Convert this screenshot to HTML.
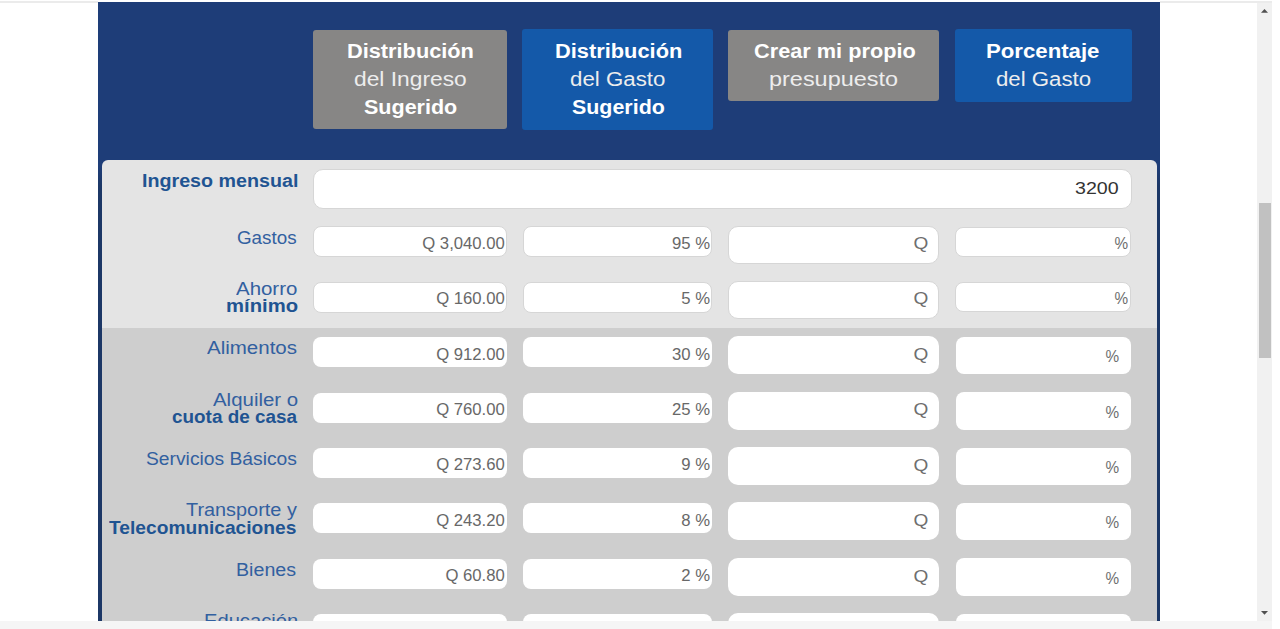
<!DOCTYPE html>
<html><head><meta charset="utf-8"><title>Presupuesto</title><style>
*{margin:0;padding:0;box-sizing:border-box}
html,body{width:1280px;height:629px;overflow:hidden;background:#fff;font-family:"Liberation Sans",sans-serif}
.a{position:absolute}
.t{position:absolute;white-space:nowrap;transform-origin:0 0}
.in{position:absolute;background:#fff;border-radius:8px}
.lt{border:1px solid #d6d6d6}
.v{position:absolute;font-size:16.7px;color:#686868;white-space:nowrap;text-align:right;line-height:20px}
.ph{position:absolute;font-size:17px;color:#6e6e6e;white-space:nowrap;text-align:right;line-height:20px}
</style></head>
<body>
<div class="a" style="left:0;top:1px;width:98px;height:2px;background:#ebebeb"></div>
<div class="a" style="left:1160px;top:1px;width:112px;height:2px;background:#ebebeb"></div>
<div class="a" style="left:98px;top:2px;width:1062px;height:627px;background:#1e3d78"></div>
<div class="a" style="left:102px;top:160px;width:1055px;height:168px;background:#e4e4e4;border-radius:6px 6px 0 0"></div>
<div class="a" style="left:102px;top:328px;width:1055px;height:301px;background:#cecece"></div>
<div class="a" style="left:98px;top:166px;width:3.6px;height:463px;background:linear-gradient(#1e3d78,#1c3766 20px)"></div>
<div class="a" style="left:1157px;top:166px;width:3px;height:463px;background:linear-gradient(#1e3d78,#1c3766 20px)"></div>
<div class="a" style="left:313px;top:30px;width:194px;height:99px;background:#878685;border-radius:3px"></div>
<div class="a" style="left:522px;top:29px;width:191px;height:101px;background:#1459a9;border-radius:3px"></div>
<div class="a" style="left:728px;top:30px;width:211px;height:71px;background:#878685;border-radius:3px"></div>
<div class="a" style="left:955px;top:29px;width:177px;height:73px;background:#1459a9;border-radius:3px"></div>
<div class="in lt" style="left:312.5px;top:169.4px;width:819.4px;height:39.2px;border-radius:10px"></div>
<div class="in lt" style="left:312.5px;top:226.20px;width:194.5px;height:31px"></div>
<div class="in lt" style="left:523px;top:226.20px;width:189px;height:31px"></div>
<div class="in lt" style="left:728px;top:225.70px;width:211.2px;height:38px;border-radius:10px"></div>
<div class="in lt" style="left:955px;top:226.90px;width:176px;height:30px"></div>
<div class="v" style="right:775.2px;top:234.01px">Q 3,040.00</div>
<div class="v" style="right:570px;top:234.01px">95 %</div>
<div class="ph" style="right:351.4px;top:233.61px;transform:scaleX(1.12);transform-origin:100% 0">Q</div>
<div class="ph" style="right:151.5999999999999px;top:233.81px;transform:scaleX(0.9);transform-origin:100% 0">%</div>
<div class="in lt" style="left:312.5px;top:281.55px;width:194.5px;height:31px"></div>
<div class="in lt" style="left:523px;top:281.55px;width:189px;height:31px"></div>
<div class="in lt" style="left:728px;top:281.05px;width:211.2px;height:38px;border-radius:10px"></div>
<div class="in lt" style="left:955px;top:282.25px;width:176px;height:30px"></div>
<div class="v" style="right:775.2px;top:289.36px">Q 160.00</div>
<div class="v" style="right:570px;top:289.36px">5 %</div>
<div class="ph" style="right:351.4px;top:288.96px;transform:scaleX(1.12);transform-origin:100% 0">Q</div>
<div class="ph" style="right:151.5999999999999px;top:289.16px;transform:scaleX(0.9);transform-origin:100% 0">%</div>
<div class="in" style="left:312.5px;top:337.40px;width:194.5px;height:30px"></div>
<div class="in" style="left:523px;top:337.40px;width:189px;height:30px"></div>
<div class="in" style="left:728px;top:336.40px;width:211.2px;height:38px;border-radius:10px"></div>
<div class="in" style="left:955.8px;top:336.90px;width:175.3px;height:37.3px"></div>
<div class="v" style="right:775.2px;top:344.71px">Q 912.00</div>
<div class="v" style="right:570px;top:344.71px">30 %</div>
<div class="ph" style="right:351.4px;top:345.11px;transform:scaleX(1.12);transform-origin:100% 0">Q</div>
<div class="ph" style="right:161px;top:347.31px;transform:scaleX(0.9);transform-origin:100% 0">%</div>
<div class="in" style="left:312.5px;top:392.75px;width:194.5px;height:30px"></div>
<div class="in" style="left:523px;top:392.75px;width:189px;height:30px"></div>
<div class="in" style="left:728px;top:391.75px;width:211.2px;height:38px;border-radius:10px"></div>
<div class="in" style="left:955.8px;top:392.25px;width:175.3px;height:37.3px"></div>
<div class="v" style="right:775.2px;top:400.06px">Q 760.00</div>
<div class="v" style="right:570px;top:400.06px">25 %</div>
<div class="ph" style="right:351.4px;top:400.46px;transform:scaleX(1.12);transform-origin:100% 0">Q</div>
<div class="ph" style="right:161px;top:402.66px;transform:scaleX(0.9);transform-origin:100% 0">%</div>
<div class="in" style="left:312.5px;top:448.10px;width:194.5px;height:30px"></div>
<div class="in" style="left:523px;top:448.10px;width:189px;height:30px"></div>
<div class="in" style="left:728px;top:447.10px;width:211.2px;height:38px;border-radius:10px"></div>
<div class="in" style="left:955.8px;top:447.60px;width:175.3px;height:37.3px"></div>
<div class="v" style="right:775.2px;top:455.41px">Q 273.60</div>
<div class="v" style="right:570px;top:455.41px">9 %</div>
<div class="ph" style="right:351.4px;top:455.81px;transform:scaleX(1.12);transform-origin:100% 0">Q</div>
<div class="ph" style="right:161px;top:458.01px;transform:scaleX(0.9);transform-origin:100% 0">%</div>
<div class="in" style="left:312.5px;top:503.45px;width:194.5px;height:30px"></div>
<div class="in" style="left:523px;top:503.45px;width:189px;height:30px"></div>
<div class="in" style="left:728px;top:502.45px;width:211.2px;height:38px;border-radius:10px"></div>
<div class="in" style="left:955.8px;top:502.95px;width:175.3px;height:37.3px"></div>
<div class="v" style="right:775.2px;top:510.76px">Q 243.20</div>
<div class="v" style="right:570px;top:510.76px">8 %</div>
<div class="ph" style="right:351.4px;top:511.16px;transform:scaleX(1.12);transform-origin:100% 0">Q</div>
<div class="ph" style="right:161px;top:513.36px;transform:scaleX(0.9);transform-origin:100% 0">%</div>
<div class="in" style="left:312.5px;top:558.80px;width:194.5px;height:30px"></div>
<div class="in" style="left:523px;top:558.80px;width:189px;height:30px"></div>
<div class="in" style="left:728px;top:557.80px;width:211.2px;height:38px;border-radius:10px"></div>
<div class="in" style="left:955.8px;top:558.30px;width:175.3px;height:37.3px"></div>
<div class="v" style="right:775.2px;top:566.11px">Q 60.80</div>
<div class="v" style="right:570px;top:566.11px">2 %</div>
<div class="ph" style="right:351.4px;top:566.51px;transform:scaleX(1.12);transform-origin:100% 0">Q</div>
<div class="ph" style="right:161px;top:568.71px;transform:scaleX(0.9);transform-origin:100% 0">%</div>
<div class="in" style="left:312.5px;top:614.15px;width:194.5px;height:30px"></div>
<div class="in" style="left:523px;top:614.15px;width:189px;height:30px"></div>
<div class="in" style="left:728px;top:613.15px;width:211.2px;height:38px;border-radius:10px"></div>
<div class="in" style="left:955.8px;top:613.65px;width:175.3px;height:37.3px"></div>
<div class="ph" style="right:351.4px;top:621.86px;transform:scaleX(1.12);transform-origin:100% 0">Q</div>
<div class="ph" style="right:161px;top:624.06px;transform:scaleX(0.9);transform-origin:100% 0">%</div>
<div class="t" style="left:347.31px;top:41.07px;font-size:20px;line-height:20px;font-weight:bold;color:#fff;transform:scaleX(1.0878);">Distribución</div>
<div class="t" style="left:354.00px;top:69.07px;font-size:20px;line-height:20px;font-weight:normal;color:#ededed;transform:scaleX(1.1393);">del Ingreso</div>
<div class="t" style="left:363.80px;top:96.97px;font-size:20px;line-height:20px;font-weight:bold;color:#fff;transform:scaleX(1.0757);">Sugerido</div>
<div class="t" style="left:554.61px;top:41.07px;font-size:20px;line-height:20px;font-weight:bold;color:#fff;transform:scaleX(1.0913);">Distribución</div>
<div class="t" style="left:570.00px;top:69.07px;font-size:20px;line-height:20px;font-weight:normal;color:#ededed;transform:scaleX(1.1137);">del Gasto</div>
<div class="t" style="left:571.90px;top:96.97px;font-size:20px;line-height:20px;font-weight:bold;color:#fff;transform:scaleX(1.0711);">Sugerido</div>
<div class="t" style="left:753.70px;top:41.07px;font-size:20px;line-height:20px;font-weight:bold;color:#fff;transform:scaleX(1.0861);">Crear mi propio</div>
<div class="t" style="left:769.23px;top:69.07px;font-size:20px;line-height:20px;font-weight:normal;color:#ededed;transform:scaleX(1.1720);">presupuesto</div>
<div class="t" style="left:986.49px;top:41.07px;font-size:20px;line-height:20px;font-weight:bold;color:#fff;transform:scaleX(1.1093);">Porcentaje</div>
<div class="t" style="left:996.00px;top:69.07px;font-size:20px;line-height:20px;font-weight:normal;color:#ededed;transform:scaleX(1.1113);">del Gasto</div>
<div class="t" style="left:141.88px;top:173.29px;font-size:17.5px;line-height:17.5px;font-weight:bold;color:#1f5492;transform:scaleX(1.1246);">Ingreso mensual</div>
<div class="t" style="left:1075.20px;top:179.91px;font-size:17px;line-height:17px;font-weight:normal;color:#333;transform:scaleX(1.1535);">3200</div>
<div class="t" style="left:237.00px;top:229.59px;font-size:17.5px;line-height:17.5px;font-weight:normal;color:#3260a0;transform:scaleX(1.0738);">Gastos</div>
<div class="t" style="left:236.30px;top:280.89px;font-size:17.5px;line-height:17.5px;font-weight:normal;color:#3260a0;transform:scaleX(1.1681);">Ahorro</div>
<div class="t" style="left:225.74px;top:298.14px;font-size:17.5px;line-height:17.5px;font-weight:bold;color:#1f5492;transform:scaleX(1.1580);">mínimo</div>
<div class="t" style="left:206.50px;top:340.29px;font-size:17.5px;line-height:17.5px;font-weight:normal;color:#3260a0;transform:scaleX(1.1714);">Alimentos</div>
<div class="t" style="left:212.50px;top:391.59px;font-size:17.5px;line-height:17.5px;font-weight:normal;color:#3260a0;transform:scaleX(1.1672);">Alquiler o</div>
<div class="t" style="left:171.70px;top:408.84px;font-size:17.5px;line-height:17.5px;font-weight:bold;color:#1f5492;transform:scaleX(1.0800);">cuota de casa</div>
<div class="t" style="left:145.60px;top:450.99px;font-size:17.5px;line-height:17.5px;font-weight:normal;color:#3260a0;transform:scaleX(1.1006);">Servicios Básicos</div>
<div class="t" style="left:185.70px;top:502.29px;font-size:17.5px;line-height:17.5px;font-weight:normal;color:#3260a0;transform:scaleX(1.1356);">Transporte y</div>
<div class="t" style="left:109.30px;top:519.54px;font-size:17.5px;line-height:17.5px;font-weight:bold;color:#1f5492;transform:scaleX(1.0969);">Telecomunicaciones</div>
<div class="t" style="left:236.48px;top:561.69px;font-size:17.5px;line-height:17.5px;font-weight:normal;color:#3260a0;transform:scaleX(1.1221);">Bienes</div>
<div class="t" style="left:203.55px;top:612.99px;font-size:17.5px;line-height:17.5px;font-weight:normal;color:#3260a0;transform:scaleX(1.1514);">Educación</div>
<div class="t" style="left:250.00px;top:630.24px;font-size:17.5px;line-height:17.5px;font-weight:bold;color:#1f5492;transform:scaleX(0.7636);">y Salud</div>
<div class="a" style="left:0;top:621px;width:1272px;height:8px;background:#f5f5f5"></div>
<div class="a" style="left:1257px;top:3px;width:15px;height:618px;background:#f1f1f1"></div>
<div class="a" style="left:1259px;top:203px;width:12px;height:155px;background:#c1c1c1"></div>
<svg class="a" style="left:1257px;top:3px" width="15" height="15"><path d="M4 9.8 L7.5 6 L11 9.8Z" fill="#505050"/></svg>
<svg class="a" style="left:1257px;top:604px" width="15" height="15"><path d="M4 7 L7.5 10.8 L11 7Z" fill="#505050"/></svg>
</body></html>
